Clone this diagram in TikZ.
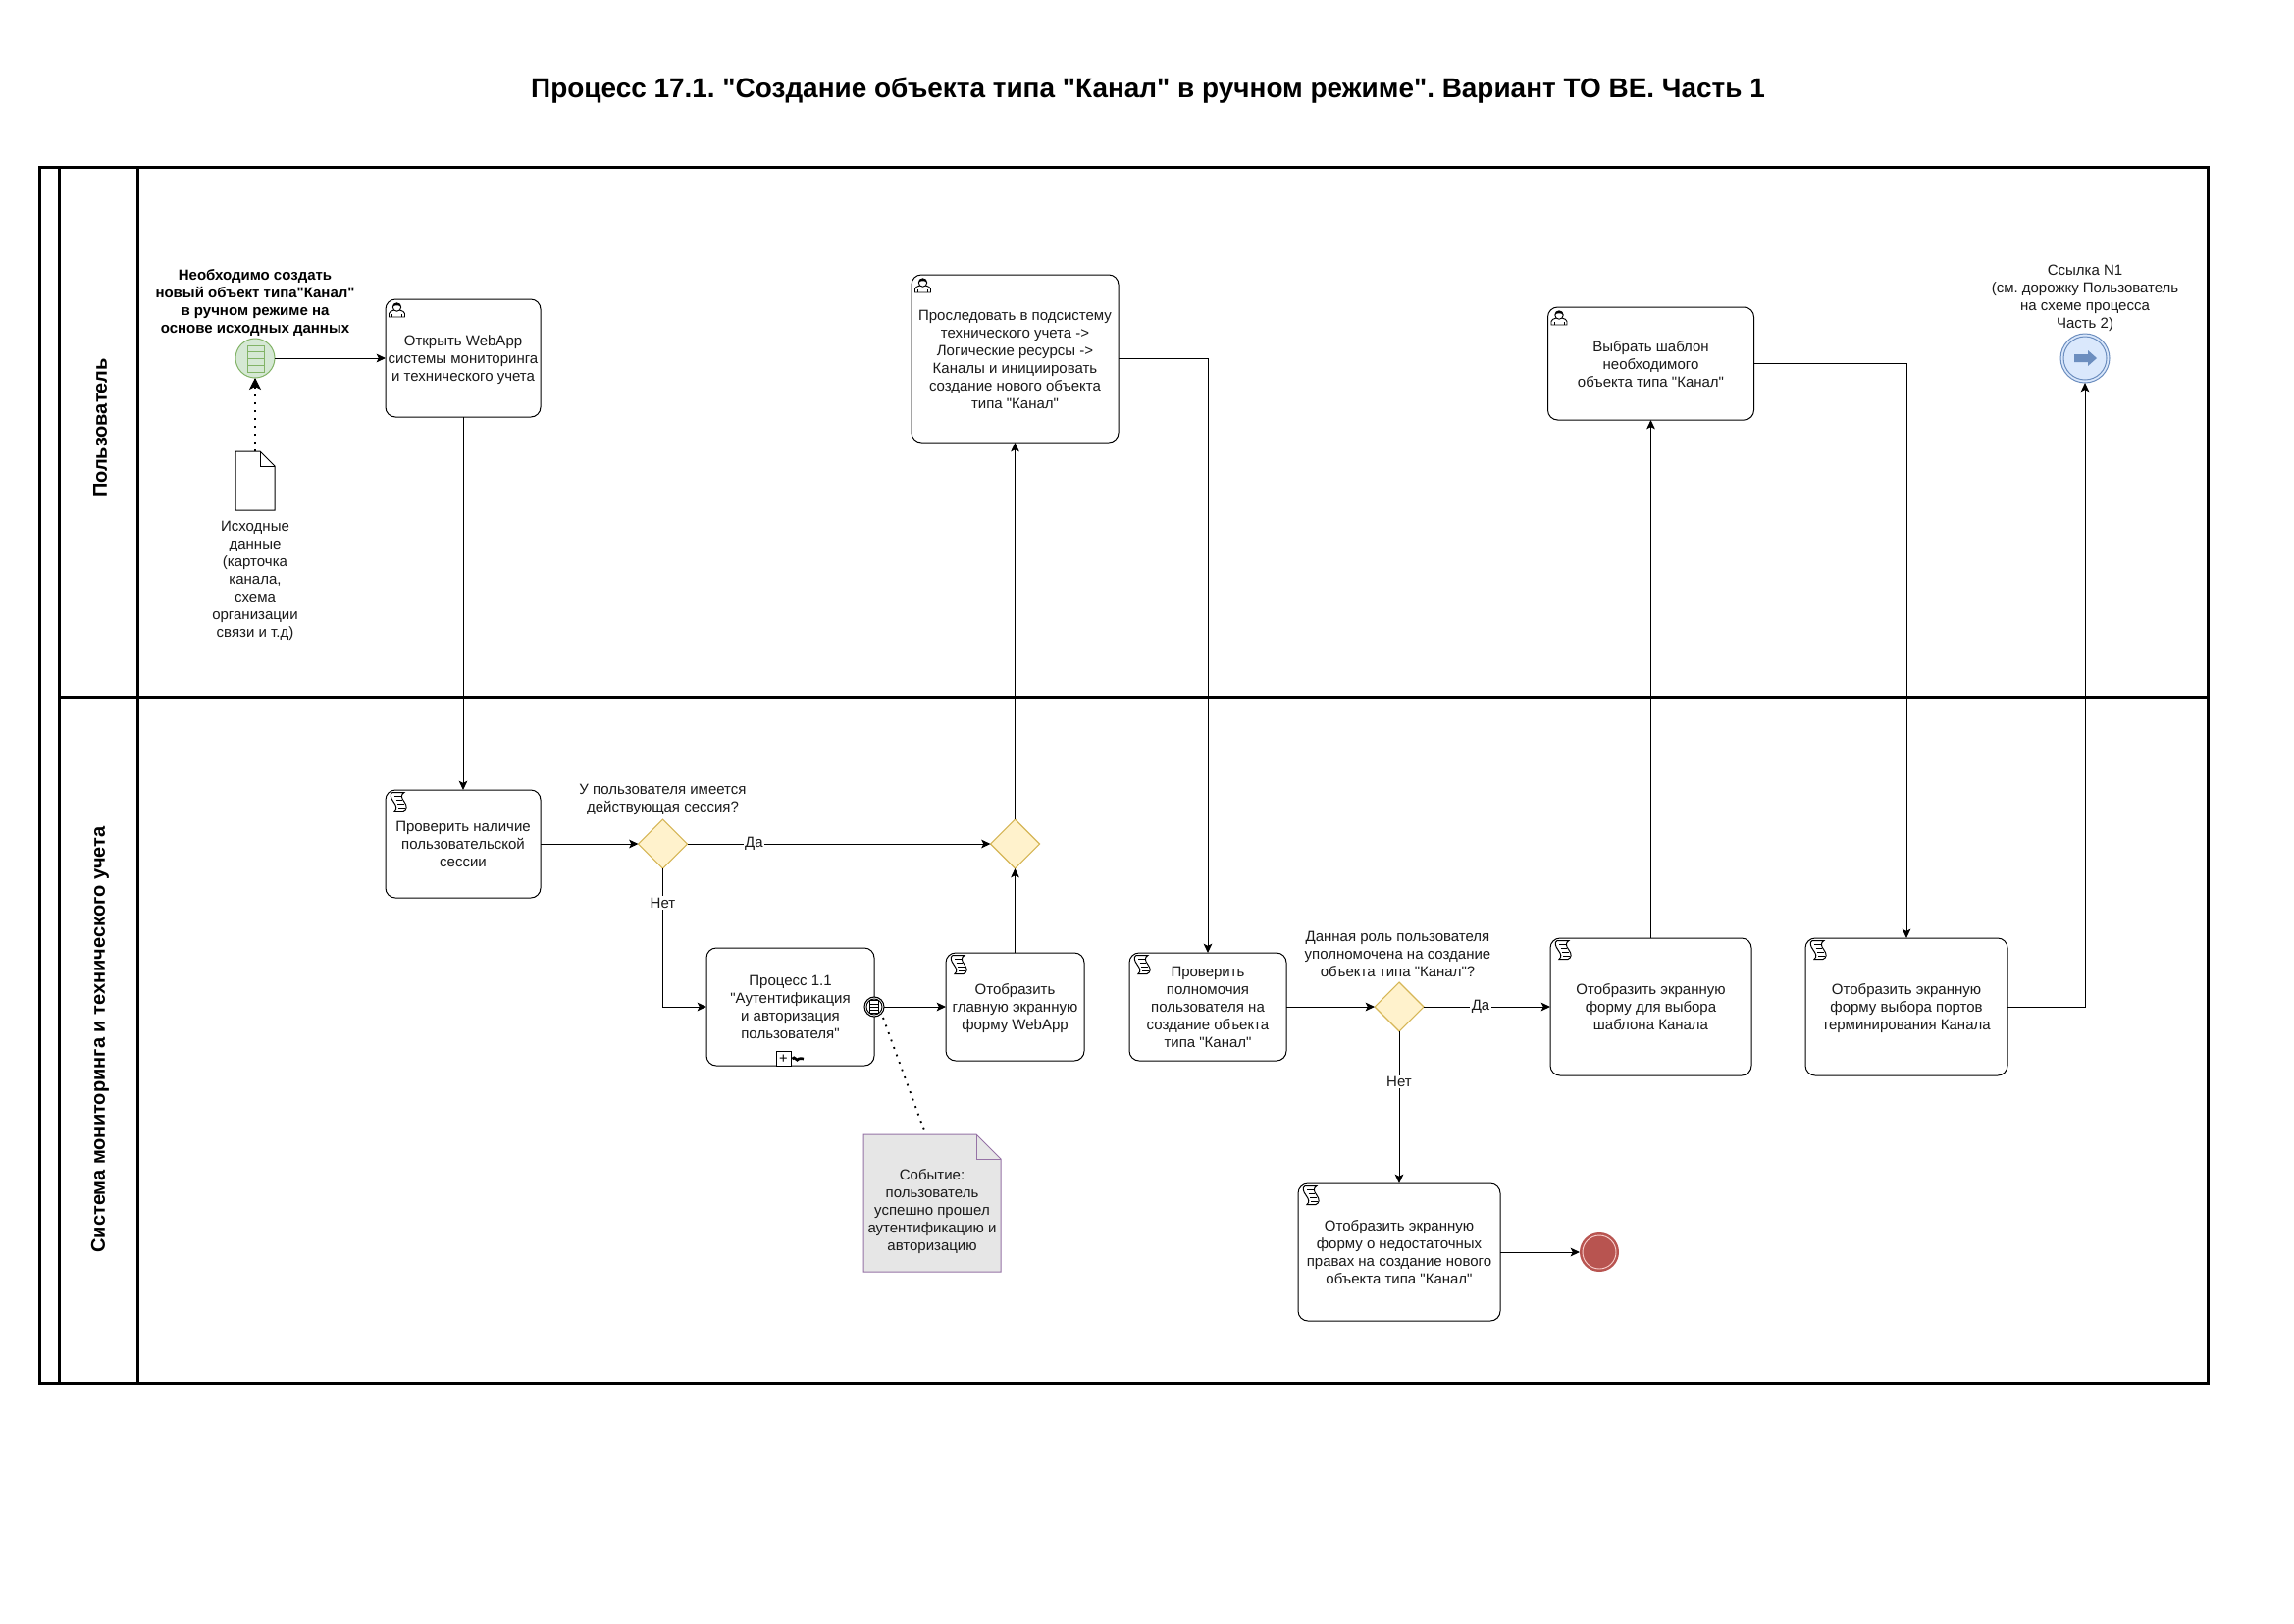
\documentclass[tikz,border=0pt]{standalone}
\usepackage{fontspec}
\newfontfamily\mainf{Liberation Sans}
\usetikzlibrary{arrows.meta,shapes.geometric}
\definecolor{txt}{HTML}{1A1A1A}
\definecolor{gateline}{HTML}{D6B656}
\definecolor{gatefill}{HTML}{FFF2CC}
\definecolor{notefill}{HTML}{E6E6E6}
\definecolor{noteline}{HTML}{9673A6}
\definecolor{startline}{HTML}{82B366}
\definecolor{startfill}{HTML}{D5E8D4}
\definecolor{endfill}{HTML}{B85450}
\definecolor{endline}{HTML}{F8CECC}
\definecolor{linkline}{HTML}{6C8EBF}
\definecolor{linkfill}{HTML}{DAE8FC}
\newcommand{\tb}{\rule{0pt}{11.4pt}}
\newcommand{\te}{\rule[-3pt]{0pt}{3pt}}
\tikzset{
  plain/.style={font=\mainf\frenchspacing\fontsize{11.25}{13.5}\selectfont,text=txt,align=center,inner sep=0pt,outer sep=0pt},
  base/.style={plain},
  task/.style 2 args={base,draw=black,line width=0.75pt,rounded corners=7.5pt,fill=white,minimum width=#1*0.75pt,minimum height=#2*0.75pt},
  gate/.style={diamond,draw=gateline,fill=gatefill,line width=0.8pt,minimum width=37.5pt,minimum height=37.5pt,inner sep=0pt,outer sep=0pt},
  lbl/.style={base},
  boldlbl/.style={base,font=\mainf\frenchspacing\fontsize{11.25}{13.5}\selectfont\bfseries,text=black},
  edgelbl/.style={plain,fill=white,inner xsep=1pt,inner ysep=1pt},
  flow/.style={draw=black,line width=0.75pt,-{Stealth[length=7pt,width=6.5pt,inset=1.6pt]}},
  dots/.style={draw=black,line width=1.4pt,dash pattern=on 1.4pt off 4.6pt},
  lane/.style={font=\mainf\fontsize{15}{18}\selectfont\bfseries,inner sep=0pt,rotate=90},
  usericon/.pic={
    \begin{scope}[shift={(3,2)},line width=0.7pt]
      \filldraw[fill=white] (0.5,16) -- (0.5,12.5) .. controls (0.5,10.5) and (3,10) .. (5.5,9) -- (11.5,9) .. controls (14,10) and (16.5,10.5) .. (16.5,12.5) -- (16.5,16) -- cycle;
      \draw (3.5,16) -- (3.5,13) (13.5,16) -- (13.5,13);
      \filldraw[fill=white] (8.5,6) circle (4.2);
      \fill[black] (4.3,6) .. controls (4.3,0.5) and (12.7,0.5) .. (12.7,6) .. controls (11,3.6) and (6,3.6) .. (4.3,6) -- cycle;
    \end{scope}},
  scripticon/.pic={
    \begin{scope}[shift={(4,2)},line width=0.75pt]
      \filldraw[fill=white] (3,0.5) -- (15,0.5) .. controls (11,3) and (12,6) .. (15,10) .. controls (18,14) and (18,18) .. (14,19.5) -- (5,19.5) .. controls (8,17) and (7,14) .. (4,10) .. controls (1,6) and (0,2) .. (3,0.5) -- cycle;
      \draw (5,4) -- (12,4) (6.5,8) -- (13,8) (8,12) -- (15,12) (9,16) -- (16,16);
    \end{scope}}
}
\begin{document}
\begin{tikzpicture}[x=0.75pt,y=-0.75pt]
\useasboundingbox (0,0) rectangle (2338,1654);
\fill[white] (0,0) rectangle (2338,1654);

% title
\node[plain,font=\mainf\frenchspacing\fontsize{20.95}{25}\selectfont\bfseries,text=black] (title) at (1170,92) {Процесс 17.1. "Создание объекта типа "Канал" в ручном режиме". Вариант TO BE. Часть 1};

% pool
\draw[line width=2.25pt] (40.5,170) rectangle (2250,1409);
\draw[line width=2.25pt] (60,170) -- (60,1409);
\draw[line width=2.25pt] (140,170) -- (140,1409);
\draw[line width=2.25pt] (60,710) -- (2250,710);
\node[lane] (lane1) at (102,436) {Пользователь};
\node[lane] (lane2) at (102,1059.5) {Система мониторинга и технического учета};

% document and note shapes
\draw[line width=0.75pt,fill=white] (240,460) -- (265,460) -- (280,475) -- (280,520) -- (240,520) -- cycle;
\draw[line width=0.75pt] (265,460) -- (265,475) -- (280,475);
\node[minimum width=30pt,minimum height=45pt,inner sep=0pt,outer sep=0pt] (doc) at (260,490) {};
\node[lbl] (doclbl) at (260,590) {\tb Исходные\\данные\\(карточка\\канала,\\схема\\организации\\связи и т.д)\te};

\filldraw[draw=noteline,fill=notefill,line width=0.75pt] (880,1156) -- (995,1156) -- (1020,1181) -- (1020,1296) -- (880,1296) -- cycle;
\draw[draw=noteline,line width=0.75pt] (995,1156) -- (995,1181) -- (1020,1181);
\node[lbl] (note) at (950,1233) {\tb Событие:\\пользователь\\успешно прошел\\аутентификацию и\\авторизацию\te};
\coordinate (notetop) at (943,1155);
\coordinate (bnddot) at (900,1037);

% start
\node[circle,draw=startline,fill=startfill,line width=0.75pt,minimum size=30pt,inner sep=0pt,outer sep=0pt] (st) at (260,365) {};
\draw[startline,line width=0.7pt] (252,352) rectangle (269,379) (252,358.5) -- (269,358.5) (252,365.5) -- (269,365.5) (252,372.5) -- (269,372.5);
\node[boldlbl] (stlbl) at (260,307) {\tb Необходимо создать\\новый объект типа"Канал"\\в ручном режиме на\\основе исходных данных\te};

% tasks
\node[task={158}{120}] (open) at (472,365) {\tb Открыть WebApp\\системы мониторинга\\и технического учета\te};
\pic at (open.north west) {usericon};
\node[task={211}{171}] (pros) at (1034.5,365.5) {\tb Проследовать в подсистему\\технического учета ->\\Логические ресурсы ->\\Каналы и инициировать\\создание нового объекта\\типа "Канал"\te};
\pic at (pros.north west) {usericon};
\node[task={210}{115}] (vyb) at (1682.5,370.5) {\tb Выбрать шаблон\\необходимого\\объекта типа "Канал"\te};
\pic at (vyb.north west) {usericon};

\node[task={158}{110}] (sess) at (472,860) {\tb Проверить наличие\\пользовательской\\сессии\te};
\pic at (sess.north west) {scripticon};
\node[gate] (gw1) at (675.5,860) {};
\node[lbl] (gw1lbl) at (675.5,813) {\tb У пользователя имеется\\действующая сессия?\te};
\node[gate] (gw2) at (1034.5,860) {};
\node[task={171}{120}] (sub) at (805.5,1026) {\tb Процесс 1.1\\"Аутентификация\\и авторизация\\пользователя"\te};
\node[draw=black,line width=0.75pt,fill=white,minimum size=11.25pt,inner sep=0pt,outer sep=0pt,font=\mainf\fontsize{11}{11}\selectfont] (plus) at (798.5,1079) {+};
\node[inner sep=0pt,minimum width=9pt,minimum height=5pt] (tilde) at (813.5,1079) {};
\draw[line width=2pt] (807.5,1079) .. controls (810,1075) and (812,1083) .. (814,1079) .. controls (815,1077) and (817,1080) .. (819,1079);
\node[circle,draw=black,fill=white,line width=0.8pt,minimum size=15pt,inner sep=0pt,outer sep=0pt] (bnd) at (891,1026) {};
\draw[line width=0.7pt] (891,1026) circle (8);
\draw[line width=0.7pt] (886.5,1019.5) rectangle (895.5,1032.5) (886.5,1023) -- (895.5,1023) (886.5,1026) -- (895.5,1026) (886.5,1029) -- (895.5,1029);
\node[task={141}{110}] (main) at (1034.5,1026) {\tb Отобразить\\главную экранную\\форму WebApp\te};
\pic at (main.north west) {scripticon};
\node[task={160}{110}] (perm) at (1231,1026) {\tb Проверить\\полномочия\\пользователя на\\создание объекта\\типа "Канал"\te};
\pic at (perm.north west) {scripticon};
\node[gate] (gw3) at (1426,1026) {};
\node[lbl] (gw3lbl) at (1424.5,972) {\tb Данная роль пользователя\\уполномочена на создание\\объекта типа "Канал"?\te};
\node[task={205}{140}] (tmpl) at (1682.5,1026) {\tb Отобразить экранную\\форму для выбора\\шаблона Канала\te};
\pic at (tmpl.north west) {scripticon};
\node[task={206}{140}] (ports) at (1943,1026) {\tb Отобразить экранную\\форму выбора портов\\терминирования Канала\te};
\pic at (ports.north west) {scripticon};
\node[task={206}{140}] (deny) at (1426,1276) {\tb Отобразить экранную\\форму о недостаточных\\правах на создание нового\\объекта типа "Канал"\te};
\pic at (deny.north west) {scripticon};

% end
\node[circle,fill=endfill,minimum size=30pt,inner sep=0pt,outer sep=0pt] (end) at (1630,1276) {};
\draw[endline,line width=0.7pt] (1630,1276) circle (17);

% link
\node[circle,draw=linkline,fill=linkfill,line width=0.75pt,minimum size=37.5pt,inner sep=0pt,outer sep=0pt] (link) at (2125,365) {};
\draw[linkline,line width=0.75pt] (2125,365) circle (22);
\fill[linkline] (2114,361) -- (2128,361) -- (2128,357) -- (2137,365) -- (2128,373) -- (2128,369) -- (2114,369) -- cycle;
\node[lbl] (linklbl) at (2125,302) {\tb Ссылка N1\\(см. дорожку Пользователь\\на схеме процесса\\Часть 2)\te};

% connectors
\draw[flow] (st) -- (open.west);
\draw[dots] (doc.north) -- (st.south);
\draw[draw=black,line width=0.75pt,-{Stealth[length=9pt,width=9pt,inset=2.2pt]}] ([yshift=-5pt]st.south) -- (st.south);
\draw[flow] (open.south) -- (sess.north);
\draw[flow] (sess.east) -- (gw1.west);
\draw[flow] (gw1.east) -- node[edgelbl,pos=0.22] {Да} (gw2.west);
\draw[flow] (gw1.south) |- node[edgelbl,pos=0.124] {Нет} (sub.west);
\draw[flow] (bnd.east) -- (main.west);
\draw[flow] (main.north) -- (gw2.south);
\draw[flow] (gw2.north) -- (pros.south);
\draw[flow] (pros.east) -| (perm.north);
\draw[flow] (perm.east) -- (gw3.west);
\draw[flow] (gw3.east) -- node[edgelbl,pos=0.45] {Да} (tmpl.west);
\draw[flow] (gw3.south) -- node[edgelbl,pos=0.33] {Нет} (deny.north);
\draw[flow] (deny.east) -- (end.west);
\draw[flow] (tmpl.north) -- (vyb.south);
\draw[flow] (vyb.east) -| (ports.north);
\draw[flow] (ports.east) -| (link.south);
\draw[dots] (bnddot) -- (notetop);
\end{tikzpicture}
\end{document}
